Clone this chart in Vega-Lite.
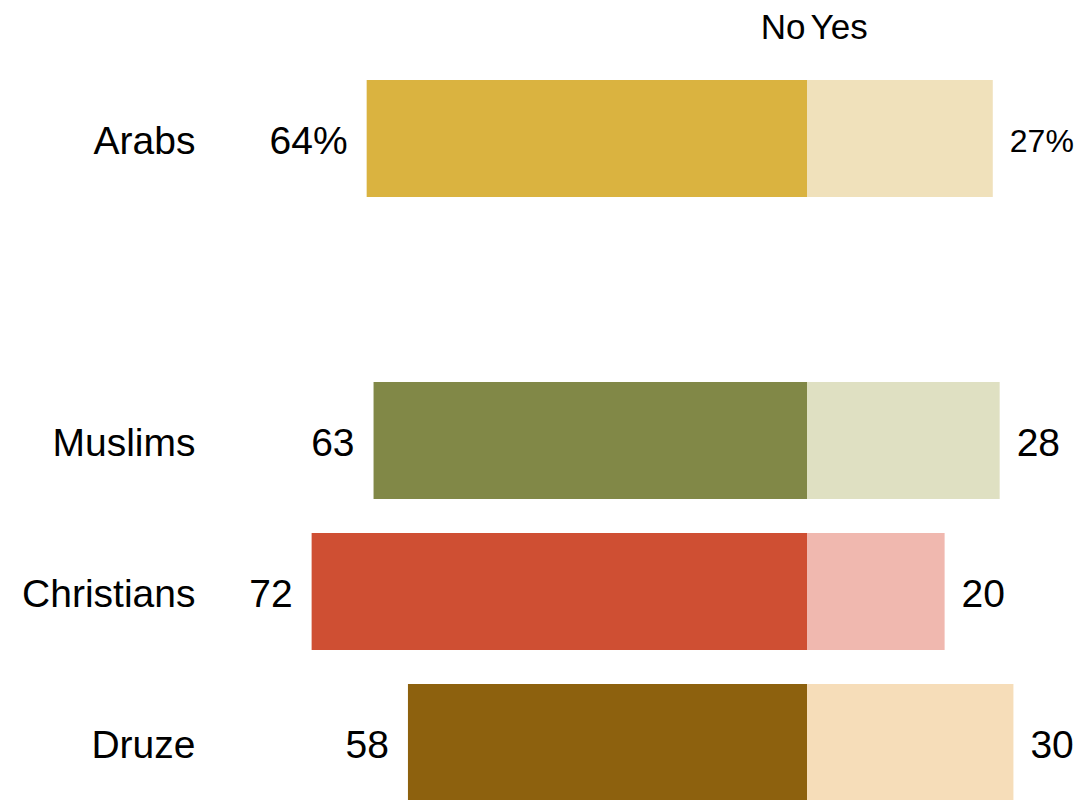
{
  "$schema": "https://vega.github.io/schema/vega-lite/v6.json",
  "autosize": {"type": "none"},
  "padding": {"left": 210, "top": 63, "right": 0, "bottom": 0},
  "width": 867,
  "height": 755,
  "background": "white",
  "config": {
    "view": {"stroke": null},
    "font": "Liberation Sans"
  },
  "data": {
    "values": [
      {"group": "Arabs", "no": 64, "yes": 27, "noLabel": "64%", "yesLabel": "27%"},
      {"group": "Muslims", "no": 63, "yes": 28, "noLabel": "63", "yesLabel": "28"},
      {"group": "Christians", "no": 72, "yes": 20, "noLabel": "72", "yesLabel": "20"},
      {"group": "Druze", "no": 58, "yes": 30, "noLabel": "58", "yesLabel": "30"}
    ]
  },
  "encoding": {
    "y": {
      "field": "group",
      "type": "nominal",
      "scale": {"domain": ["Arabs", " ", "Muslims", "Christians", "Druze"], "paddingInner": 0.225, "paddingOuter": 0.1125},
      "axis": {"title": null, "domain": false, "ticks": false, "grid": false, "labelFontSize": 39, "labelPadding": 15, "labelOffset": 3, "labelColor": "black", "labelFont": "Liberation Sans"}
    }
  },
  "resolve": {"scale": {"x": "independent", "color": "independent"}},
  "layer": [
    {
      "encoding": {
        "x": {
          "field": "no",
          "type": "quantitative",
          "scale": {"domain": [-39.24, 86.77], "reverse": true, "nice": false},
          "axis": {
            "orient": "top",
            "title": null,
            "values": [0.3, -0.45],
            "labelExpr": "datum.value > 0 ? 'No' : 'Yes'",
            "labelAlign": {"condition": {"test": "datum.value > 0", "value": "right"}, "value": "left"},
            "labelFontSize": 35,
            "labelColor": "black",
            "labelPadding": 18,
            "labelFlush": false,
            "labelOverlap": false,
            "domain": false,
            "ticks": false,
            "grid": false
          }
        }
      },
      "layer": [
        {
          "mark": {"type": "bar"},
          "encoding": {
            "color": {
              "field": "group",
              "type": "nominal",
              "scale": {"domain": ["Arabs", "Muslims", "Christians", "Druze"], "range": ["#DAB340", "#818847", "#CF4F33", "#8D610E"]},
              "legend": null
            }
          }
        },
        {
          "mark": {"type": "text", "align": "right", "dx": -19, "dy": 3, "fontSize": 39, "color": "black"},
          "encoding": {"text": {"field": "noLabel"}}
        }
      ]
    },
    {
      "encoding": {
        "x": {
          "field": "yes",
          "type": "quantitative",
          "scale": {"domain": [-86.77, 39.24], "nice": false},
          "axis": null
        }
      },
      "layer": [
        {
          "mark": {"type": "bar"},
          "encoding": {
            "color": {
              "field": "group",
              "type": "nominal",
              "scale": {"domain": ["Arabs", "Muslims", "Christians", "Druze"], "range": ["#F0E1BB", "#DFE0C2", "#F0B8AF", "#F6DDB9"]},
              "legend": null
            }
          }
        },
        {
          "mark": {"type": "text", "align": "left", "dx": 17, "dy": 3, "color": "black"},
          "encoding": {
            "text": {"field": "yesLabel"},
            "size": {"condition": {"test": "datum.group === 'Arabs'", "value": 32}, "value": 39}
          }
        }
      ]
    }
  ]
}
